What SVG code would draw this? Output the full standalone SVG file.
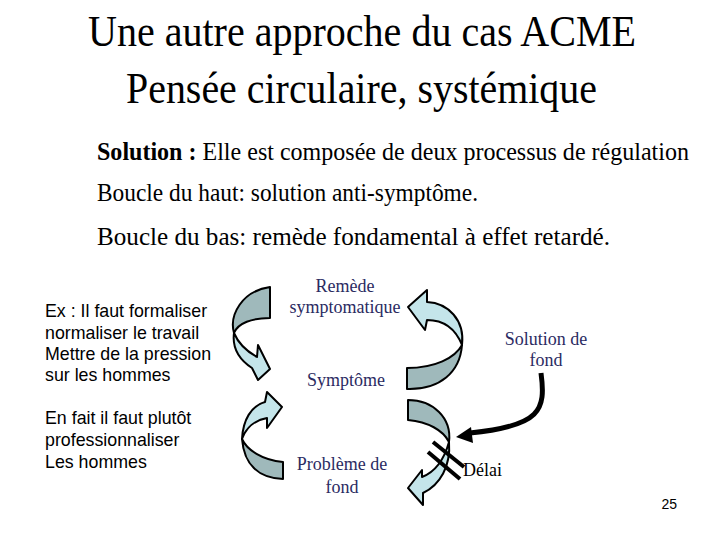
<svg xmlns="http://www.w3.org/2000/svg" width="720" height="540" viewBox="0 0 720 540">
<style>
.title{font-family:"Liberation Serif",serif;font-size:45px;fill:#000}
.body{font-family:"Liberation Serif",serif;font-size:25px;fill:#000}
.side{font-family:"Liberation Sans",Arial,sans-serif;font-size:17.8px;fill:#000}
.lbl{font-family:"Liberation Serif",serif;font-size:18px;fill:#2b2b62;text-anchor:middle}
.dark{fill:#9fb9bb;stroke:#000;stroke-width:2;stroke-linejoin:round}
.light{fill:#c4e5ea;stroke:#000;stroke-width:2;stroke-linejoin:round}
</style>
<rect width="720" height="540" fill="#fff"/>
<text class="title" x="88" y="46" textLength="548" lengthAdjust="spacingAndGlyphs">Une autre approche du cas ACME</text>
<text class="title" x="126" y="103" textLength="471" lengthAdjust="spacingAndGlyphs">Pensée circulaire, systémique</text>
<text class="body" x="97" y="160" textLength="592" lengthAdjust="spacingAndGlyphs"><tspan font-weight="bold">Solution :</tspan> Elle est composée de deux processus de régulation</text>
<text class="body" x="97" y="201" textLength="381" lengthAdjust="spacingAndGlyphs">Boucle du haut: solution anti-symptôme.</text>
<text class="body" x="97" y="245" textLength="513" lengthAdjust="spacingAndGlyphs">Boucle du bas: remède fondamental à effet retardé.</text>
<g id="side-text">
<text class="side" x="45" y="317">Ex : Il faut formaliser</text>
<text class="side" x="45" y="339">normaliser le travail</text>
<text class="side" x="45" y="360">Mettre de la pression</text>
<text class="side" x="45" y="381">sur les hommes</text>
<text class="side" x="45" y="424">En fait il faut plutôt</text>
<text class="side" x="45" y="446">professionnaliser</text>
<text class="side" x="45" y="468">Les hommes</text>
</g>
<g id="node-remede"><text class="lbl" x="345" y="292">Remède</text><text class="lbl" x="345" y="313">symptomatique</text></g>
<g id="node-symptome"><text class="lbl" x="346" y="386">Symptôme</text></g>
<g id="node-probleme"><text class="lbl" x="342" y="470">Problème de</text><text class="lbl" x="342" y="493">fond</text></g>
<g id="node-solution"><text class="lbl" x="546" y="345">Solution de</text><text class="lbl" x="546" y="366">fond</text></g>
<g id="node-delai"><text x="463" y="476" font-family="'Liberation Serif',serif" font-size="18" fill="#000">Délai</text></g>
<g id="connectors">
<!-- top-left: Remède -> Symptôme -->
<path class="dark" d="M270 287 L270 318 C252 318 238 323 234 333 C229 315 242 291 270 287 Z"/>
<path class="light" d="M234 333 C239 345 248 352 257 357 L258 345 L270 369 L258 380 L252 368 C240 360 232 348 234 333 Z"/>
<!-- bottom-left: Problème -> Symptôme -->
<path class="dark" d="M283 462 L283 479 C258 478 244 464 242 439 C247 450 262 460 283 462 Z"/>
<path class="light" d="M242 439 C243 420 251 406 265 402 L267 392 L282 407 L267 428 L267 418 C255 420 246 428 242 439 Z"/>
<!-- top-right: Symptôme -> Remède -->
<path class="dark" d="M407 368 L407 389 C440 390 460 372 462 345 C455 358 435 368 407 368 Z"/>
<path class="light" d="M462 345 C465 320 448 303 427 302 L427 290 L408 307 L425 330 L427 320 C445 320 456 330 462 345 Z"/>
<!-- bottom-right: Symptôme -> Problème (délai) -->
<path class="dark" d="M408 400 L408 420 C428 422 443 430 449 442 C452 418 433 400 408 400 Z"/>
<path class="light" d="M449 442 C451 466 440 485 423 493 L423 505 L408 488 L422 470 L422 477 C435 472 444 460 449 442 Z"/>
<!-- delay marks -->
<line x1="433" y1="442" x2="464" y2="467" stroke="#000" stroke-width="4"/>
<line x1="428" y1="452" x2="460" y2="479" stroke="#000" stroke-width="4"/>
<!-- Solution de fond -> délai -->
<path d="M541 373 C546 410 541 426 470 433" fill="none" stroke="#000" stroke-width="5"/>
<polygon points="456,437 471,427 473,443" fill="#000"/>
</g>
<text x="677" y="509" font-family="'Liberation Sans',Arial,sans-serif" font-size="14" text-anchor="end">25</text>
</svg>
